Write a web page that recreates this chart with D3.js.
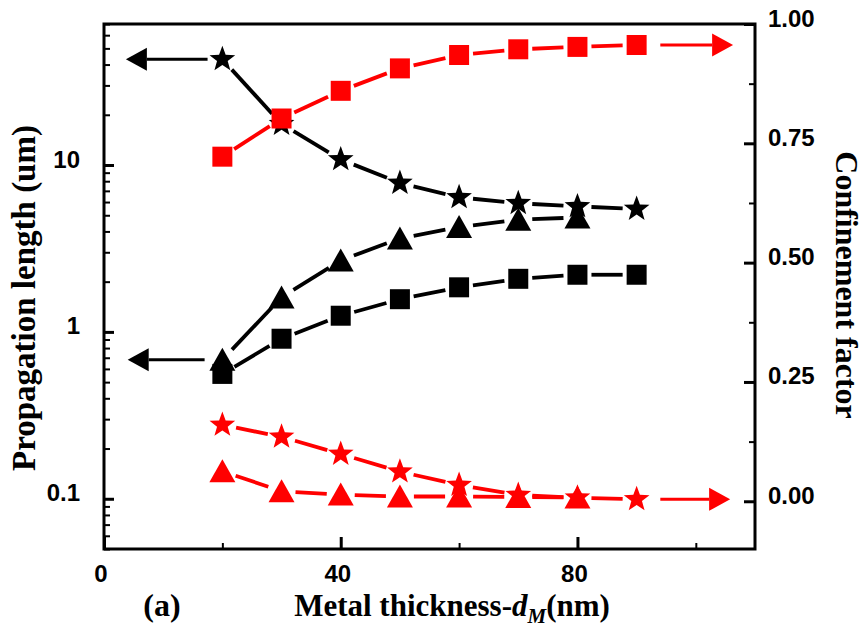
<!DOCTYPE html>
<html>
<head>
<meta charset="utf-8">
<script src="https://cdn.jsdelivr.net/npm/d3@7/dist/d3.min.js"></script>
<style>
	body { margin: 0; background: #fff; }
	svg { display: block; }
	.tick text { font-family: "Liberation Sans", Arial, sans-serif; font-weight: bold; font-size: 24px; fill: #000; }
	.title { font-family: "Liberation Serif", "Times New Roman", serif; font-weight: bold; fill: #000; }
</style>
</head>
<body>
<svg width="864" height="628"></svg>
<script>

// metal thickness d_M (nm)
const thickness = [ 20, 30, 40, 50, 60, 70, 80, 90 ];

// propagation length (um), left log axis, black
const lenStar   = [ 43, 17.6, 10.8, 7.8, 6.4, 5.9, 5.65, 5.45 ];
const lenTri    = [ 0.68, 1.61, 2.68, 3.63, 4.25, 4.7, 4.85 ];
const lenSquare = [ 0.56, 0.91, 1.25, 1.57, 1.85, 2.08, 2.2, 2.2 ];

// confinement factor, right axis, red
const confSquare = [ 0.722, 0.802, 0.860, 0.907, 0.935, 0.947, 0.952, 0.956 ];
const confStar   = [ 0.160, 0.135, 0.099, 0.062, 0.034, 0.013, 0.0075, 0.004 ];
const confTri    = [ 0.063, 0.021, 0.014, 0.010, 0.010, 0.009, 0.008 ];

// axis ticks
const xMajor = [ 0, 40, 80 ];
const xMinor = [ 20, 60, 100 ];
const yLeftMajor = [ 0.1, 1, 10 ];
const yRightMajor = [ 0, 0.25, 0.5, 0.75, 1.0 ];
const yRightMinor = [ 0.125, 0.375, 0.625, 0.875 ];

const svg = d3.select( "svg" );
const box = { left: 104, right: 755, top: 24, bottom: 549 };

const x  = d3.scaleLinear().domain( [ 0, 110 ] ).range( [ box.left, box.right ] );
const yL = d3.scaleLog().domain( [ 0.05, 70 ] ).range( [ box.bottom, box.top ] );
const yR = d3.scaleLinear().domain( [ -0.1, 1.0 ] ).range( [ box.bottom, box.top ] );

// log minor ticks 2..9 of every decade inside the domain
let yLeftMinor = [];
[ 0.01, 0.1, 1, 10 ].forEach( dec => {
	for ( let k = 2; k <= 9; k++ ) {
		let v = k * dec;
		if ( v >= 0.05 && v <= 70 ) yLeftMinor.push( v );
	}
});

// ---- axes ----
function styleAxis ( g, major ) {
	g.select( ".domain" ).remove();
	g.selectAll( ".tick line" ).attr( "stroke", "#000" ).attr( "stroke-width", major ? 3 : 2 );
}

svg.append( "g" )
	.attr( "transform", "translate(" + box.left + ",0)" )
	.call( d3.axisLeft( yL ).tickValues( yLeftMajor ).tickSize( -10 ).tickPadding( 24 )
		.tickFormat( d => d >= 1 ? d3.format( "d" )( d ) : d ) )
	.call( g => styleAxis( g, true ) )
	.selectAll( "text" ).attr( "dy", "2px" );

svg.append( "g" )
	.attr( "transform", "translate(" + box.left + ",0)" )
	.call( d3.axisLeft( yL ).tickValues( yLeftMinor ).tickSize( -6 ).tickFormat( "" ) )
	.call( g => styleAxis( g, false ) );

svg.append( "g" )
	.attr( "transform", "translate(" + box.right + ",0)" )
	.call( d3.axisRight( yR ).tickValues( yRightMajor ).tickSize( -11 ).tickPadding( 13 )
		.tickFormat( d3.format( ".2f" ) ) )
	.call( g => styleAxis( g, true ) )
	.selectAll( "text" ).attr( "dy", "2px" );

svg.append( "g" )
	.attr( "transform", "translate(" + box.right + ",0)" )
	.call( d3.axisRight( yR ).tickValues( yRightMinor ).tickSize( -6 ).tickFormat( "" ) )
	.call( g => styleAxis( g, false ) );

svg.append( "g" )
	.attr( "transform", "translate(0," + box.bottom + ")" )
	.call( d3.axisBottom( x ).tickValues( xMajor ).tickSize( -12 ).tickPadding( 16 ) )
	.call( g => styleAxis( g, true ) )
	.selectAll( "text" ).attr( "dx", "-3.5px" );

svg.append( "g" )
	.attr( "transform", "translate(0," + box.bottom + ")" )
	.call( d3.axisBottom( x ).tickValues( xMinor ).tickSize( -6 ).tickFormat( "" ) )
	.call( g => styleAxis( g, false ) );

// frame
svg.append( "path" )
	.attr( "d", `M${box.left},${box.top}H${box.right}V${box.bottom}H${box.left}Z` )
	.attr( "fill", "none" )
	.attr( "stroke", "#000" )
	.attr( "stroke-width", 3 );

// ---- markers ----
function starPath ( R, r ) {
	let pts = [];
	for ( let i = 0; i < 10; i++ ) {
		let a = -Math.PI / 2 + i * Math.PI / 5, rr = ( i % 2 ) ? r : R;
		pts.push( [ rr * Math.cos( a ), rr * Math.sin( a ) ] );
	}
	return "M" + pts.map( p => p[0].toFixed( 2 ) + "," + p[1].toFixed( 2 ) ).join( "L" ) + "Z";
}
const shapes = {
	square: "M-10,-10H10V10H-10Z",
	tri: "M0,-12L13,11L-13,11Z",
	star: starPath( 13.5, 5.6 )
};

function series ( vals, yScale, shape, color ) {
	let pts = vals.map( ( v, i ) => [ x( thickness[ i ] ), yScale( v ) ] );
	let gap = 14;
	let g = svg.append( "g" );

	// line segments broken around each symbol
	d3.pairs( pts ).forEach( ( [ a, b ] ) => {
		let dx = b[0] - a[0], dy = b[1] - a[1], len = Math.hypot( dx, dy );
		if ( len <= 2 * gap ) return;
		let ux = dx / len, uy = dy / len;
		g.append( "line" )
			.attr( "x1", a[0] + ux * gap ).attr( "y1", a[1] + uy * gap )
			.attr( "x2", b[0] - ux * gap ).attr( "y2", b[1] - uy * gap )
			.attr( "stroke", color )
			.attr( "stroke-width", 3.8 );
	});

	g.selectAll( ".sym" )
		.data( pts )
		.enter().append( "path" )
		.attr( "class", "sym" )
		.attr( "d", shapes[ shape ] )
		.attr( "transform", d => "translate(" + d[0] + "," + d[1] + ")" )
		.attr( "fill", color );
	return pts;
}

function arrow ( x0, x1, y, color ) {
	// shaft from x0 to arrowhead tip at x1
	let dir = ( x1 > x0 ) ? 1 : -1, head = 21, half = 11.5;
	svg.append( "line" )
		.attr( "x1", x0 ).attr( "y1", y )
		.attr( "x2", x1 - dir * head ).attr( "y2", y )
		.attr( "stroke", color ).attr( "stroke-width", 3 );
	svg.append( "path" )
		.attr( "d", `M${x1},${y}L${x1 - dir * head},${y - half}L${x1 - dir * head},${y + half}Z` )
		.attr( "fill", color );
}

series( lenSquare, yL, "square", "#000" );
series( lenTri, yL, "tri", "#000" );
series( lenStar, yL, "star", "#000" );
series( confStar, yR, "star", "#f00" );
series( confTri, yR, "tri", "#f00" );
series( confSquare, yR, "square", "#f00" );

// axis arrows point from the first / last point to their axis
arrow( x( 17.5 ), x( 3.7 ), yL( lenStar[0] ), "#000" );
arrow( x( 17 ), x( 4.0 ), yL( lenTri[0] ), "#000" );
arrow( x( 94 ), x( 106.3 ), yR( confSquare[ confSquare.length - 1 ] ), "#f00" );
arrow( x( 94 ), x( 105.8 ), yR( confStar[ confStar.length - 1 ] ), "#f00" );

// ---- titles ----
svg.append( "text" )
	.attr( "class", "title" )
	.attr( "transform", "translate(35,298) rotate(-90)" )
	.attr( "text-anchor", "middle" )
	.style( "font-size", "33px" )
	.text( "Propagation length (um)" );

svg.append( "text" )
	.attr( "class", "title" )
	.attr( "transform", "translate(836,285) rotate(90)" )
	.attr( "text-anchor", "middle" )
	.style( "font-size", "32px" )
	.text( "Confinement factor" );

svg.append( "text" )
	.attr( "class", "title" )
	.attr( "x", 162 ).attr( "y", 616 )
	.attr( "text-anchor", "middle" )
	.style( "font-size", "32px" )
	.text( "(a)" );

let xt = svg.append( "text" )
	.attr( "class", "title" )
	.attr( "x", 452 ).attr( "y", 616 )
	.attr( "text-anchor", "middle" )
	.style( "font-size", "31px" );
xt.append( "tspan" ).text( "Metal thickness-" );
xt.append( "tspan" ).style( "font-style", "italic" ).text( "d" );
xt.append( "tspan" ).style( "font-style", "italic" ).style( "font-size", "21px" ).attr( "dy", 7 ).text( "M" );
xt.append( "tspan" ).attr( "dy", -7 ).text( "(nm)" );

</script>
</body>
</html>
